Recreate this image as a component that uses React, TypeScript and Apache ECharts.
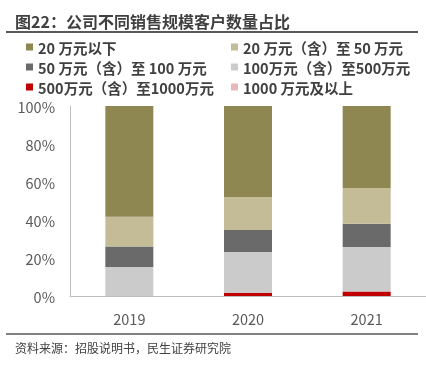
import React, { useEffect, useRef } from "react";
import * as echarts from "echarts";

const categories = ["2019", "2020", "2021"];
const seriesNames = [
  "20 万元以下",
  "20 万元（含）至 50 万元",
  "50 万元（含）至 100 万元",
  "100万元（含）至500万元",
  "500万元（含）至1000万元",
  "1000 万元及以上",
];
const seriesColors = ["#8F8752", "#C4BC97", "#6A6A6A", "#CBCBCB", "#C00000", "#E6B8B7"];
const below20 = [58.3, 48.0, 43.1];
const from20to50 = [15.7, 17.3, 18.9];
const from50to100 = [10.8, 11.5, 12.2];
const from100to500 = [15.2, 21.5, 23.4];
const from500to1000 = [0, 1.7, 2.4];
const above1000 = [0, 0, 0];
const yTicks = [0, 20, 40, 60, 80, 100];

export default function App() {
  const ref = useRef<HTMLDivElement>(null);
  useEffect(() => {
    if (!ref.current) return;
    const chart = echarts.init(ref.current, null, { renderer: "svg" });
    const valuesBySeries = [below20, from20to50, from50to100, from100to500, from500to1000, above1000];
    // stack bottom-up: 1000+, 500-1000, 100-500, 50-100, 20-50, <20
    const order = [5, 4, 3, 2, 1, 0];
    const font = "'Noto Sans CJK SC', 'Microsoft YaHei', sans-serif";
    const legendText = { fontSize: 14.5, lineHeight: 16, fontWeight: "bold", color: "#404040", fontFamily: font };
    chart.setOption({
      animation: false,
      textStyle: { fontFamily: font },
      grid: { left: 70, top: 106, height: 190, width: 357, containLabel: false },
      legend: [
        {
          orient: "vertical",
          left: 21,
          top: 34,
          itemWidth: 7,
          itemHeight: 7,
          itemGap: 4,
          icon: "rect",
          data: [seriesNames[0], seriesNames[2], seriesNames[4]],
          textStyle: legendText,
        },
        {
          orient: "vertical",
          left: 226,
          top: 34,
          itemWidth: 7,
          itemHeight: 7,
          itemGap: 4,
          icon: "rect",
          data: [seriesNames[1], seriesNames[3], seriesNames[5]],
          textStyle: legendText,
        },
      ],
      xAxis: {
        type: "category",
        data: categories,
        axisLine: { lineStyle: { color: "#BFBFBF", width: 1 } },
        axisTick: { show: false },
        axisLabel: { fontSize: 14.5, color: "#595959", margin: 15, fontFamily: font },
      },
      yAxis: {
        type: "value",
        min: yTicks[0],
        max: yTicks[yTicks.length - 1],
        interval: 20,
        axisLine: { show: true, lineStyle: { color: "#BFBFBF", width: 1 } },
        axisTick: { show: false },
        splitLine: { show: false },
        axisLabel: { fontSize: 14.5, color: "#595959", margin: 15, formatter: "{value}%", fontFamily: font },
      },
      graphic: [
        {
          type: "text",
          left: 15,
          top: 13,
          style: { text: "图22：公司不同销售规模客户数量占比", fontSize: 16, fontWeight: "bold", fill: "#404040", fontFamily: font },
        },
        { type: "line", shape: { x1: 6, y1: 32, x2: 418, y2: 32 }, style: { stroke: "#595959", lineWidth: 2 } },
        { type: "line", shape: { x1: 6, y1: 334, x2: 418, y2: 334 }, style: { stroke: "#595959", lineWidth: 1.5 } },
        {
          type: "text",
          left: 15,
          top: 341,
          style: { text: "资料来源：招股说明书，民生证券研究院", fontSize: 12, fill: "#404040", fontFamily: font },
        },
      ],
      series: order.map((i) => ({
        name: seriesNames[i],
        type: "bar",
        stack: "total",
        barWidth: 48,
        data: valuesBySeries[i],
        itemStyle: { color: seriesColors[i] },
      })),
    });
    return () => chart.dispose();
  }, []);
  return <div ref={ref} style={{ position: "fixed", left: 0, top: 0, width: 426, height: 366 }} />;
}
